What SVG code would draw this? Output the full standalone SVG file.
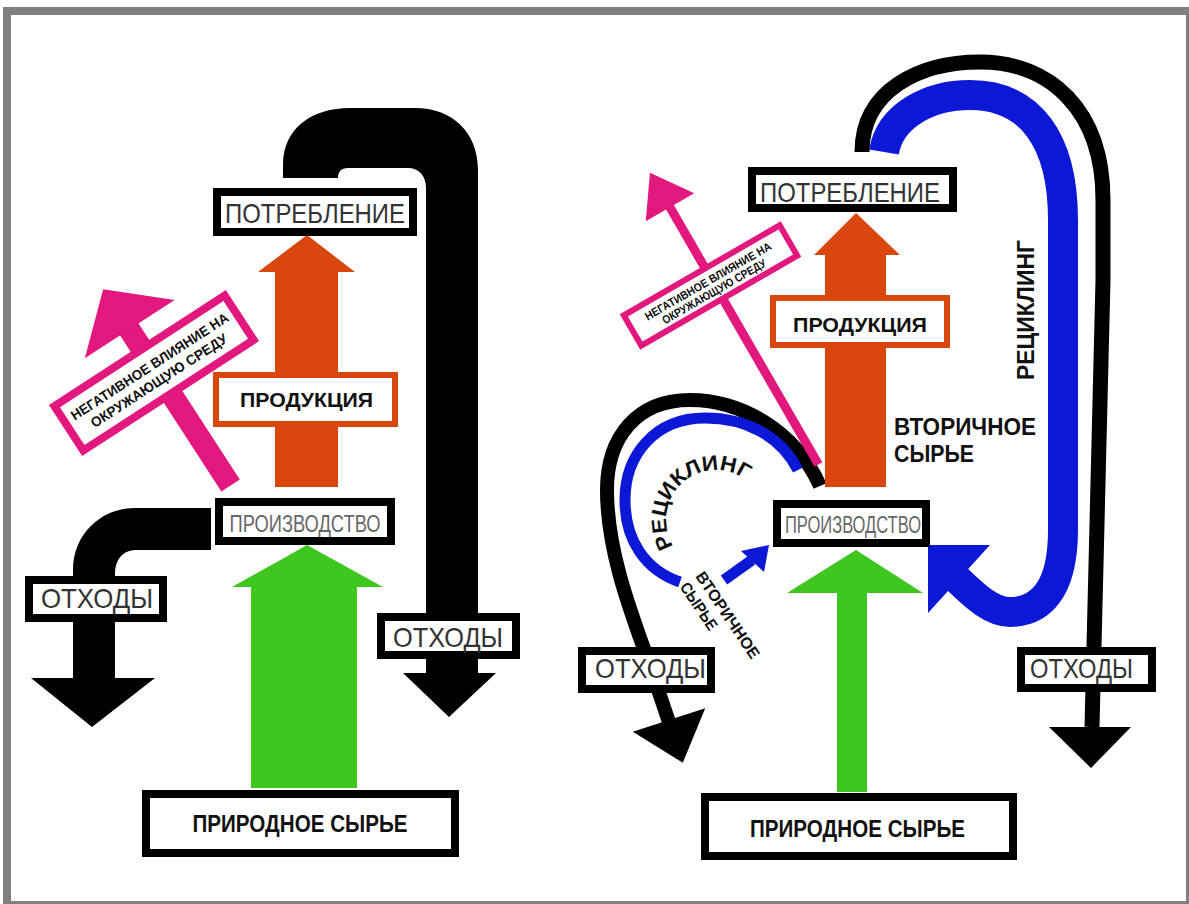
<svg xmlns="http://www.w3.org/2000/svg" width="1189" height="904" viewBox="0 0 1189 904">
<style>
.box{fill:#fff;stroke:#000;stroke-width:8}
.obox{fill:#fff;stroke:#D9470F;stroke-width:6}
.pbox{fill:#fff;stroke:#E2187F}
.lbl{font-family:"Liberation Sans",Arial,sans-serif;font-size:28px;fill:#333;text-anchor:middle}
.lbl2{font-family:"Liberation Sans",Arial,sans-serif;font-size:23px;fill:#666;text-anchor:middle}
.bld{font-family:"Liberation Sans",Arial,sans-serif;font-weight:bold;fill:#111}
.blk{fill:#000}
.orn{fill:#D9470F}
.grn{fill:#3FC61F}
.pnk{fill:#E2187F}
.blu{fill:#0D18D6}
</style>
<defs>
<path id="arcText" d="M 673.6 546.5 A 50 50 0 0 1 754.3 487.9"/>
</defs>
<rect x="0" y="0" width="1189" height="904" fill="#fff"/>
<rect x="3" y="7" width="1186" height="897" fill="#808080"/>
<rect x="11" y="15" width="1175" height="886" fill="#fff"/>

<g id="connectors">
  <!-- left diagram -->
  <path class="blk" d="M 283 178 L 283 165 C 283 128 312 108 350 108 L 415 108 C 452 108 478 132 478 170 L 478 673 L 496 673 L 449 717 L 403 673 L 426 673 L 426 188 C 426 176 419 168 408 168 L 348 168 C 341 168 338 172 338 178 Z"/>
  <path class="blk" d="M 211 508 L 135 508 C 100 508 73 535 73 570 L 73 678 L 31 678 L 92 727 L 155 678 L 115 678 L 115 575 C 115 560 122 550 137 550 L 211 550 Z"/>
  <polygon class="orn" points="275,487 275,272 258,272 307,235 355,272 338,272 338,487"/>
  <polygon class="grn" points="251,788 251,587 232,587 307,545 383,587 357,587 357,788"/>

  <!-- right diagram -->
  <path d="M 862 152 C 862 90 920 62 980 62 C 1050 62 1103 110 1103 200 L 1103 280 L 1092 727" fill="none" stroke="#000" stroke-width="15"/>
  <polygon class="blk" points="1049,727 1131,727 1091,768"/>
  <path d="M 884 152 C 890 115 930 95 970 95 C 1030 95 1063 140 1063 220 L 1063 530 C 1063 590 1040 612 1010 612 C 993 612 978 600 950 572" fill="none" stroke="#0D18D6" stroke-width="30"/>
  <polygon class="blu" points="928,545 990,545 928,613"/>

  <path d="M 820 486 C 795 430 740 400 690 400 C 637 400 607 437 607 490 C 607 550 630 610 648 660 L 669 722" fill="none" stroke="#000" stroke-width="14"/>
  <polygon class="blk" points="632.8,731.7 705.2,708.3 682.8,762.8"/>
  <path d="M 798 470 C 780 435 745 418 705 418 C 655 418 625 455 625 500 C 625 540 645 570 680 582" fill="none" stroke="#0D18D6" stroke-width="11"/>
  <line x1="724" y1="580" x2="752" y2="560" stroke="#0D18D6" stroke-width="11"/>
  <polygon class="blu" points="741,551 769,545 764,572"/>

  <polygon class="orn" points="825,487 825,255 814,255 856,213 900,255 886,255 886,487"/>
  <polygon class="grn" points="837,792 837,593 787,593 856,550 923,593 867,593 867,792"/>
</g>

<!-- left diagram nodes -->
<g id="sign-left" transform="translate(154,373) rotate(-33)">
  <rect class="pnk" x="-8" y="-52" width="22" height="188"/>
  <polygon class="pnk" points="-50,-50 57,-50 3,-98"/>
  <rect class="pbox" stroke-width="8" x="-101.5" y="-26.5" width="203" height="53"/>
  <text class="bld" font-size="14" text-anchor="middle" x="0" y="-3" textLength="185" lengthAdjust="spacingAndGlyphs">НЕГАТИВНОЕ ВЛИЯНИЕ НА</text>
  <text class="bld" font-size="14" text-anchor="middle" x="0" y="14" textLength="160" lengthAdjust="spacingAndGlyphs">ОКРУЖАЮЩУЮ СРЕДУ</text>
</g>
<g id="consumption-left">
  <rect class="box" x="217" y="192" width="196" height="40"/>
  <text class="lbl" x="315" y="223" textLength="180" lengthAdjust="spacingAndGlyphs">ПОТРЕБЛЕНИЕ</text>
</g>
<g id="products-left">
  <rect class="obox" x="216" y="375" width="179" height="49"/>
  <text class="bld" font-size="21" text-anchor="middle" x="306.5" y="407" textLength="133" lengthAdjust="spacingAndGlyphs">ПРОДУКЦИЯ</text>
</g>
<g id="production-left">
  <rect class="box" x="219" y="502" width="172" height="39"/>
  <text class="lbl2" x="305" y="532" textLength="151" lengthAdjust="spacingAndGlyphs">ПРОИЗВОДСТВО</text>
</g>
<g id="waste-left-1">
  <rect class="box" x="29" y="580" width="134" height="38"/>
  <text class="lbl" x="97" y="608" textLength="112" lengthAdjust="spacingAndGlyphs">ОТХОДЫ</text>
</g>
<g id="waste-left-2">
  <rect class="box" x="381" y="617" width="135" height="38"/>
  <text class="lbl" x="448" y="647" textLength="110" lengthAdjust="spacingAndGlyphs">ОТХОДЫ</text>
</g>
<g id="raw-left">
  <rect class="box" x="146" y="794" width="309" height="59"/>
  <text class="bld" font-size="23" text-anchor="middle" x="300" y="832" textLength="215" lengthAdjust="spacingAndGlyphs">ПРИРОДНОЕ СЫРЬЕ</text>
</g>

<!-- right diagram nodes -->
<g id="sign-right" transform="translate(710.5,285.5) rotate(-30)">
  <rect class="pnk" x="-0.5" y="-90" width="9" height="299"/>
  <polygon class="pnk" points="-24,-88 32,-88 4,-128"/>
  <rect class="pbox" stroke-width="6" x="-90" y="-17.5" width="180" height="35"/>
  <text class="bld" font-size="11.5" text-anchor="middle" x="0" y="-1" textLength="144" lengthAdjust="spacingAndGlyphs">НЕГАТИВНОЕ ВЛИЯНИЕ НА</text>
  <text class="bld" font-size="11.5" text-anchor="middle" x="0" y="11" textLength="118" lengthAdjust="spacingAndGlyphs">ОКРУЖАЮЩУЮ СРЕДУ</text>
</g>
<g id="consumption-right">
  <rect class="box" x="752" y="171" width="201" height="37"/>
  <text class="lbl" x="850" y="202" textLength="180" lengthAdjust="spacingAndGlyphs">ПОТРЕБЛЕНИЕ</text>
</g>
<g id="products-right">
  <rect class="obox" x="773" y="298" width="174" height="47"/>
  <text class="bld" font-size="21" text-anchor="middle" x="860" y="332" textLength="134" lengthAdjust="spacingAndGlyphs">ПРОДУКЦИЯ</text>
</g>
<g id="production-right">
  <rect class="box" x="777" y="504" width="149" height="39"/>
  <text class="lbl2" x="853" y="533" textLength="136" lengthAdjust="spacingAndGlyphs">ПРОИЗВОДСТВО</text>
</g>
<g id="waste-right-1">
  <rect class="box" x="582" y="651" width="129" height="38"/>
  <text class="lbl" x="650.5" y="678" textLength="111" lengthAdjust="spacingAndGlyphs">ОТХОДЫ</text>
</g>
<g id="waste-right-2">
  <rect class="box" x="1021" y="651" width="131" height="37"/>
  <text class="lbl" x="1081.5" y="678" textLength="103" lengthAdjust="spacingAndGlyphs">ОТХОДЫ</text>
</g>
<g id="raw-right">
  <rect class="box" x="705" y="797" width="308" height="59"/>
  <text class="bld" font-size="23" text-anchor="middle" x="857.5" y="837" textLength="215" lengthAdjust="spacingAndGlyphs">ПРИРОДНОЕ СЫРЬЕ</text>
</g>
<g id="labels-right">
  <text class="bld" font-size="23" x="894" y="435" textLength="142" lengthAdjust="spacingAndGlyphs">ВТОРИЧНОЕ</text>
  <text class="bld" font-size="23" x="894" y="462" textLength="80" lengthAdjust="spacingAndGlyphs">СЫРЬЕ</text>
  <text class="bld" font-size="23" text-anchor="middle" transform="translate(1034,310) rotate(-90)" textLength="140" lengthAdjust="spacingAndGlyphs">РЕЦИКЛИНГ</text>
  <text class="bld" font-size="21"><textPath href="#arcText" textLength="138" lengthAdjust="spacingAndGlyphs">РЕЦИКЛИНГ</textPath></text>
  <g transform="translate(700,573) rotate(56)">
    <text class="bld" font-size="16" x="0" y="6" textLength="101" lengthAdjust="spacingAndGlyphs">ВТОРИЧНОЕ</text>
    <text class="bld" font-size="16" x="0" y="25" textLength="54" lengthAdjust="spacingAndGlyphs">СЫРЬЕ</text>
  </g>
</g>
</svg>
